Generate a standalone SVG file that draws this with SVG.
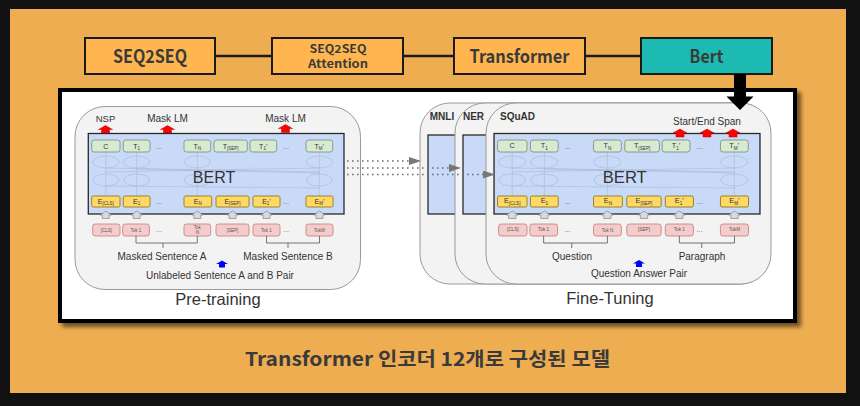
<svg xmlns="http://www.w3.org/2000/svg" xmlns:xlink="http://www.w3.org/1999/xlink" width="860" height="406" viewBox="0 0 860 406">
<style>
.tb{fill:#FFB650;stroke:#1a1a1a;stroke-width:2}
.teal{fill:#1DBAB1}
.tt{font-family:"Noto Sans CJK KR","Open Sans",sans-serif;font-weight:bold;fill:#3a3a3a;text-anchor:middle}
.panel{fill:#f3f3f3;stroke:#9a9a9a;stroke-width:1}
.bert{fill:#c9daf8;stroke:#2a2a2a;stroke-width:1.3}
.g{fill:#d9ead3;stroke:#6f8f6f;stroke-width:0.8}
.y{fill:#ffd966;stroke:#8a6d00;stroke-width:0.8}
.p{fill:#f4cccc;stroke:#c27b7b;stroke-width:0.8}
.lbl{font-family:"Liberation Sans",Arial,sans-serif;fill:#333;text-anchor:middle}
.b{font-weight:bold}
.tok{font-size:7px}
.sub{font-size:4.5px}
.pk{font-size:4.5px;fill:#555}
.dots{font-size:7px;fill:#666}
.faint{fill:none;stroke:#aebfe0;stroke-width:0.8}
.fl{fill:none;stroke:#9aaac8;stroke-width:0.6;opacity:0.7}
.brk{fill:none;stroke:#555;stroke-width:0.8}
.dotl{fill:none;stroke:#6f6f6f;stroke-width:1.7;stroke-dasharray:1.6 3.4}
.link{stroke:#1a1a1a;stroke-width:2.5}
</style>
<defs>
<filter id="sh" x="-5%" y="-5%" width="115%" height="120%">
<feDropShadow dx="4" dy="4" stdDeviation="2" flood-color="#000" flood-opacity="0.55"/>
</filter>
<marker id="gh" viewBox="0 0 12 8" refX="12" refY="4" markerWidth="13" markerHeight="8" markerUnits="userSpaceOnUse" orient="auto">
<path d="M0,0 L12,4 L0,8 Z" fill="#777"/>
</marker>
<path id="ga" d="M-5.5,4 L0,0 L5.5,4 H3.5 V7.5 H-3.5 V4 Z" fill="#d9d9d9" stroke="#888" stroke-width="0.7"/>
<path id="ra" d="M-7,4 L0,0 L7,4 H4 V8 H-4 V4 Z" fill="#ff0000" stroke="#c00000" stroke-width="0.5"/>
<path id="ba" d="M-6,3.5 L0,0 L6,3.5 H3 V7 H-3 V3.5 Z" fill="#0000ff"/>
<g id="core">
<rect class="bert" x="88.3" y="133.5" width="255.7" height="80.5"/>
<g>
<path class="fl" d="M105.8,152 V196 M136.7,152 V196 M197.3,152 V196 M319.3,152 V196 M106,168 L320,172 M106,172 L320,168 M137,169 L320,173 M106,186 L320,188"/>
<ellipse class="faint" cx="105.8" cy="162" rx="13" ry="6"/>
<ellipse class="faint" cx="136.7" cy="162" rx="13" ry="6"/>
<ellipse class="faint" cx="197.3" cy="162" rx="13" ry="6"/>
<ellipse class="faint" cx="319.3" cy="162" rx="13" ry="6"/>
<ellipse class="faint" cx="105.8" cy="180" rx="13" ry="6"/>
<ellipse class="faint" cx="136.7" cy="180" rx="13" ry="6"/>
<ellipse class="faint" cx="197.3" cy="180" rx="13" ry="6"/>
<ellipse class="faint" cx="319.3" cy="180" rx="13" ry="6"/>
<text class="lbl dots" x="253" y="167" style="fill:#b5c3de">...</text>
<text class="lbl dots" x="253" y="185" style="fill:#b5c3de">...</text>
</g>
<text class="lbl" x="214" y="183" style="font-size:16px">BERT</text>
<g>
<rect class="g" x="91.7" y="140" width="28.3" height="12" rx="2.5"/>
<rect class="g" x="123.3" y="140" width="26.7" height="12" rx="2.5"/>
<rect class="g" x="184" y="140" width="26.7" height="12" rx="2.5"/>
<rect class="g" x="214" y="140" width="33.3" height="12" rx="2.5"/>
<rect class="g" x="250" y="140" width="26.7" height="12" rx="2.5"/>
<rect class="g" x="306" y="140" width="26.7" height="12" rx="2.5"/>
<text class="lbl tok" x="105.8" y="148.5">C</text>
<text class="lbl tok" x="136.7" y="148.5">T<tspan class="sub" dy="1.5">1</tspan></text>
<text class="lbl tok" x="197.3" y="148.5">T<tspan class="sub" dy="1.5">N</tspan></text>
<text class="lbl tok" x="230.7" y="148.5">T<tspan class="sub" dy="1.5">[SEP]</tspan></text>
<text class="lbl tok" x="263.3" y="148.5">T<tspan class="sub" dy="1.5">1</tspan><tspan dy="-1.5">’</tspan></text>
<text class="lbl tok" x="319.3" y="148.5">T<tspan class="sub" dy="1.5">M</tspan><tspan dy="-1.5">’</tspan></text>
<text class="lbl dots" x="159" y="149">...</text>
<text class="lbl dots" x="286" y="149">...</text>
</g>
<g>
<rect class="y" x="91.7" y="196" width="28.3" height="11" rx="1.5"/>
<rect class="y" x="123.3" y="196" width="26.7" height="11" rx="1.5"/>
<rect class="y" x="184" y="196" width="27.7" height="11" rx="1.5"/>
<rect class="y" x="216" y="196" width="33" height="11" rx="1.5"/>
<rect class="y" x="253" y="196" width="27" height="11" rx="1.5"/>
<rect class="y" x="306" y="196" width="27" height="11" rx="1.5"/>
<text class="lbl tok" x="105.8" y="203.5">E<tspan class="sub" dy="1.5">[CLS]</tspan></text>
<text class="lbl tok" x="136.7" y="203.5">E<tspan class="sub" dy="1.5">1</tspan></text>
<text class="lbl tok" x="197.8" y="203.5">E<tspan class="sub" dy="1.5">N</tspan></text>
<text class="lbl tok" x="232.5" y="203.5">E<tspan class="sub" dy="1.5">[SEP]</tspan></text>
<text class="lbl tok" x="266.5" y="203.5">E<tspan class="sub" dy="1.5">1</tspan><tspan dy="-1.5">’</tspan></text>
<text class="lbl tok" x="319.5" y="203.5">E<tspan class="sub" dy="1.5">M</tspan><tspan dy="-1.5">’</tspan></text>
<text class="lbl dots" x="159" y="204">...</text>
<text class="lbl dots" x="286" y="204">...</text>
</g>
<use xlink:href="#ga" x="105.8" y="211"/>
<use xlink:href="#ga" x="136.7" y="211"/>
<use xlink:href="#ga" x="197.3" y="211"/>
<use xlink:href="#ga" x="232.5" y="211"/>
<use xlink:href="#ga" x="266.5" y="211"/>
<use xlink:href="#ga" x="319.5" y="211"/>
<g>
<rect class="p" x="92.7" y="224" width="27.3" height="12" rx="2.5"/>
<rect class="p" x="122.7" y="224" width="26.7" height="12" rx="2.5"/>
<rect class="p" x="184" y="224" width="26.7" height="12" rx="2.5"/>
<rect class="p" x="216" y="224" width="33" height="12" rx="2.5"/>
<rect class="p" x="253" y="224" width="27" height="12" rx="2.5"/>
<rect class="p" x="306" y="224" width="27" height="12" rx="2.5"/>
<text class="lbl pk" x="106.3" y="231.5">[CLS]</text>
<text class="lbl pk" x="136" y="231.5">Tok 1</text>
<text class="lbl pk" x="232.5" y="231.5">[SEP]</text>
<text class="lbl pk" x="266.5" y="231.5">Tok 1</text>
<text class="lbl pk" x="319.5" y="231.5">TokM</text>
<text class="lbl dots" x="159" y="232">...</text>
<text class="lbl dots" x="286" y="232">...</text>
</g>
<path class="brk" d="M136,236 V243 H197.3 V236 M163,243 V248 M266.5,236 V243 H319.5 V236 M288,243 V248"/>
</g>
</defs>

<rect width="860" height="406" fill="#111"/>
<rect x="10" y="9" width="836" height="384" fill="#EEAD50"/>

<g id="node-seq2seq">
<rect class="tb" x="85" y="38" width="130" height="36"/>
<text class="tt" x="150" y="63" style="font-size:18px" textLength="74" lengthAdjust="spacingAndGlyphs">SEQ2SEQ</text>
</g>
<g id="node-attention">
<rect class="tb" x="272" y="38" width="131" height="36"/>
<text class="tt" x="338" y="52.5" style="font-size:11px" textLength="57" lengthAdjust="spacingAndGlyphs">SEQ2SEQ</text>
<text class="tt" x="338" y="67.5" style="font-size:11px" textLength="60" lengthAdjust="spacingAndGlyphs">Attention</text>
</g>
<g id="node-transformer">
<rect class="tb" x="454" y="38" width="131" height="36"/>
<text class="tt" x="519.5" y="63" style="font-size:18px" textLength="100" lengthAdjust="spacingAndGlyphs">Transformer</text>
</g>
<g id="node-bert">
<rect class="tb teal" x="641" y="38" width="131" height="36"/>
<text class="tt" x="706.5" y="63" style="font-size:18px" textLength="34" lengthAdjust="spacingAndGlyphs">Bert</text>
</g>

<g id="node-figure">
<rect x="60" y="90" width="735" height="231" fill="#fff" stroke="#000" stroke-width="4" filter="url(#sh)"/>
<g id="pretraining">
<rect class="panel" x="75" y="106.5" width="285.5" height="183" rx="30"/>
<text class="lbl" x="105.5" y="122" style="font-size:9.5px">NSP</text>
<text class="lbl" x="167.5" y="122" style="font-size:10px">Mask LM</text>
<text class="lbl" x="285.5" y="122" style="font-size:10px">Mask LM</text>
<use xlink:href="#ra" x="105.5" y="125.5"/>
<use xlink:href="#ra" x="167.5" y="125.5"/>
<use xlink:href="#ra" x="285.5" y="124.5"/>
<use xlink:href="#core"/>
<text class="lbl pk" x="197.3" y="229">Tok</text>
<text class="lbl pk" x="197.3" y="234">N</text>
<text class="lbl" x="162" y="260" style="font-size:10px">Masked Sentence A</text>
<text class="lbl" x="288" y="260" style="font-size:10px">Masked Sentence B</text>
<use xlink:href="#ba" x="222" y="260.5"/>
<text class="lbl" x="220" y="278.5" style="font-size:10px">Unlabeled Sentence A and B Pair</text>
<text class="lbl" x="218" y="305" style="font-size:16.5px">Pre-training</text>
</g>
<g id="finetuning">
<rect class="panel" x="420" y="103" width="350" height="181" rx="30"/>
<rect class="bert" x="428" y="135" width="300" height="79"/>
<text class="lbl b" x="442" y="120" style="font-size:10px">MNLI</text>
<rect class="panel" x="455" y="103" width="315" height="181" rx="30"/>
<rect class="bert" x="463" y="135" width="280" height="79"/>
<text class="lbl b" x="473.5" y="120" style="font-size:10px">NER</text>
<rect class="panel" x="486" y="103" width="285" height="181" rx="30"/>
<text class="lbl b" x="500" y="120" style="font-size:10px;text-anchor:start">SQuAD</text>
<text class="lbl" x="707" y="125" style="font-size:10px">Start/End Span</text>
<use xlink:href="#core" transform="translate(402.2 0) scale(1.04 1)"/>
<use xlink:href="#ra" x="680" y="129"/>
<use xlink:href="#ra" x="707" y="129"/>
<use xlink:href="#ra" x="733" y="129"/>
<text class="lbl pk" x="607.4" y="231.5">Tok N</text>
<text class="lbl" x="572" y="259.5" style="font-size:10px">Question</text>
<text class="lbl" x="702" y="259.5" style="font-size:10px">Paragraph</text>
<use xlink:href="#ba" x="639" y="260"/>
<text class="lbl" x="639" y="276.5" style="font-size:10px">Question Answer Pair</text>
<text class="lbl" x="610" y="304" style="font-size:16.5px">Fine-Tuning</text>
</g>
</g>

<g id="connectors">
<line class="link" x1="215" y1="56" x2="272" y2="56"/>
<line class="link" x1="403" y1="56" x2="454" y2="56"/>
<line class="link" x1="585" y1="56" x2="641" y2="56"/>
<path d="M734,74 H746 V96.5 H753.5 L740,110 L726.5,96.5 H734 Z" fill="#000"/>
<line class="dotl" x1="347" y1="161" x2="421" y2="161" marker-end="url(#gh)"/>
<line class="dotl" x1="347" y1="168" x2="461" y2="168" marker-end="url(#gh)"/>
<line class="dotl" x1="347" y1="174.5" x2="495" y2="174.5" marker-end="url(#gh)"/>
</g>

<text class="tt" x="427.5" y="366" style="font-size:19px" textLength="365" lengthAdjust="spacingAndGlyphs">Transformer 인코더 12개로 구성된 모델</text>
</svg>
